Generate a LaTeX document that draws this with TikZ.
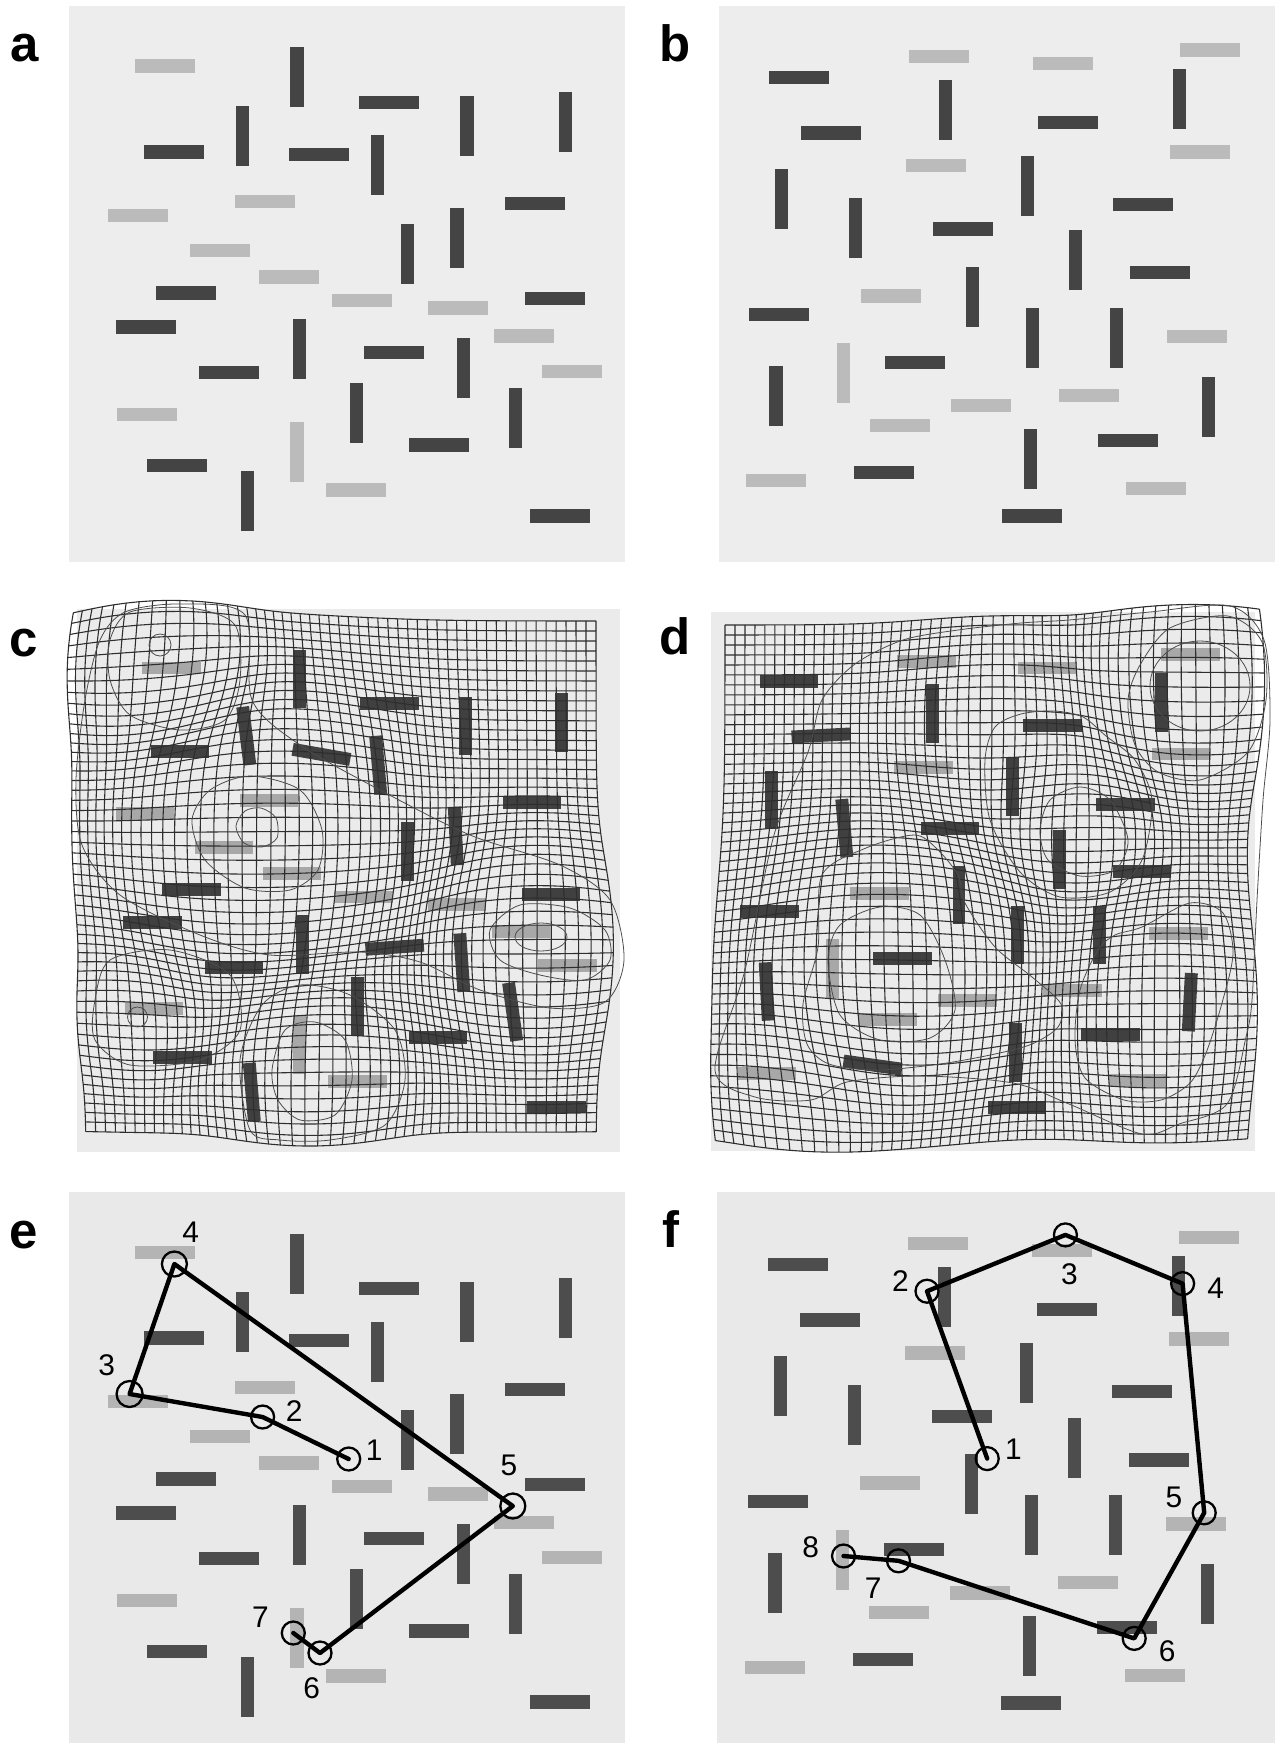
\documentclass[tikz,border=0pt]{standalone}
\usepackage{fontspec}
\setmainfont{Liberation Sans}
\definecolor{bgA}{HTML}{EDEDED}
\definecolor{bgE}{HTML}{E9E9E9}
\definecolor{bgC}{HTML}{EBEBEB}
\definecolor{dk}{HTML}{444444}
\definecolor{lt}{HTML}{BBBBBB}
\definecolor{dkE}{HTML}{4D4D4D}
\definecolor{ltE}{HTML}{B4B4B4}
\definecolor{dkC}{HTML}{404040}
\definecolor{ltC}{HTML}{A8A8A8}
\definecolor{gridc}{HTML}{2E2E2E}

% plain bars
\newcommand\hb[3]{\fill[#3] ({#1-30},{#2-6.6}) rectangle ({#1+30},{#2+6.6});}
\newcommand\vb[3]{\fill[#3] ({#1-6.6},{#2-30}) rectangle ({#1+6.6},{#2+30});}
% bars with an optional tilt looked up by position
\newcommand\getang[2]{\ifcsname rt#1:#2\endcsname\edef\rang{\csname rt#1:#2\endcsname}\else\def\rang{0}\fi}
\newcommand\rhb[3]{\getang{#1}{#2}\fill[#3,rotate around={\rang:(#1,#2)}] ({#1-30},{#2-6.6}) rectangle ({#1+30},{#2+6.6});}
\newcommand\rvb[3]{\getang{#1}{#2}\fill[#3,rotate around={\rang:(#1,#2)}] ({#1-6.6},{#2-30}) rectangle ({#1+6.6},{#2+30});}
\newcommand\settilt[3]{\expandafter\def\csname rt#1:#2\endcsname{#3}}
% tilts in panel c
\settilt{319.2}{154.6}{-10}\settilt{242.1}{135.6}{7}\settilt{377.4}{165.5}{5}
\settilt{515.3}{418.4}{8}\settilt{463.2}{367.9}{4}\settilt{247.8}{500.6}{5}
\settilt{394.3}{352.2}{4}\settilt{457.0}{238.2}{3}
% tilts in panel d
\settilt{855.3}{228.4}{5}\settilt{884.2}{472.1}{-8}\settilt{1208.6}{407.4}{-3}
\settilt{776.0}{396.4}{3}\settilt{831.3}{133.0}{3}

% bars of panel a (H macro, V macro, dark, light)
\newcommand\barsA[4]{%
#1{165.3}{66.1}{#4}#1{138.3}{215.2}{#4}#1{265.4}{201.7}{#4}#1{219.5}{250.3}{#4}%
#1{289.2}{277.0}{#4}#1{362.3}{300.7}{#4}#1{458.3}{308.0}{#4}#1{523.9}{336.1}{#4}%
#1{571.5}{371.2}{#4}#1{147.3}{414.7}{#4}#1{356.1}{490.0}{#4}%
#2{297.0}{452.0}{#4}%
#1{388.9}{102.3}{#3}#1{174.0}{152.0}{#3}#1{319.2}{154.6}{#3}#1{535.0}{203.5}{#3}%
#1{185.8}{293.0}{#3}#1{554.7}{298.5}{#3}#1{146.1}{327.0}{#3}#1{394.3}{352.2}{#3}%
#1{229.3}{372.7}{#3}#1{438.6}{445.0}{#3}#1{176.8}{465.5}{#3}#1{560.4}{515.9}{#3}%
#2{297.0}{77.5}{#3}#2{242.1}{135.6}{#3}#2{466.9}{125.7}{#3}#2{565.3}{122.0}{#3}%
#2{377.4}{165.5}{#3}#2{407.4}{253.9}{#3}#2{457.0}{238.2}{#3}#2{299.5}{349.3}{#3}%
#2{463.2}{367.9}{#3}#2{356.5}{412.9}{#3}#2{515.3}{418.4}{#3}#2{247.8}{500.6}{#3}}

% bars of panel b
\newcommand\barsB[4]{%
#1{939.2}{56.6}{#4}#1{1062.9}{63.6}{#4}#1{1209.5}{50.1}{#4}#1{1200.1}{152.0}{#4}%
#1{936.3}{165.9}{#4}#1{891.1}{296.0}{#4}#1{1197.3}{336.9}{#4}#1{1088.6}{395.7}{#4}%
#1{981.1}{405.9}{#4}#1{899.7}{425.3}{#4}#1{776.4}{480.8}{#4}#1{1155.7}{488.1}{#4}%
#2{843.1}{372.7}{#4}%
#1{798.7}{77.8}{#3}#1{831.3}{133.0}{#3}#1{1068.2}{122.8}{#3}#1{1143.1}{204.2}{#3}%
#1{963.2}{229.1}{#3}#1{1159.8}{272.9}{#3}#1{778.8}{314.2}{#3}#1{914.8}{362.8}{#3}%
#1{1127.6}{440.3}{#3}#1{884.2}{472.1}{#3}#1{1032.0}{515.9}{#3}%
#2{945.3}{110.3}{#3}#2{1179.7}{99.0}{#3}#2{781.2}{199.1}{#3}#2{855.3}{228.4}{#3}%
#2{1027.5}{185.6}{#3}#2{1075.5}{260.5}{#3}#2{972.6}{297.1}{#3}#2{1032.4}{338.0}{#3}%
#2{1116.2}{338.0}{#3}#2{776.0}{396.4}{#3}#2{1208.6}{407.4}{#3}#2{1030.4}{459.3}{#3}}

% warp fields of the grids
\newcommand\warpC[2]{%
 \edef\wqX{\fpeval{#1}}\edef\wqY{\fpeval{#2}}%
 \edef\wtA{\fpeval{0.5*exp(-((\wqX-160)^2+(\wqY-665)^2)/6400)}}%
 \edef\wtB{\fpeval{0.45*exp(-((\wqX-255)^2+(\wqY-830)^2)/16900)}}%
 \edef\wtC{\fpeval{0.45*exp(-((\wqX-535)^2+(\wqY-945)^2)/8100)}}%
 \edef\wtD{\fpeval{0.4*exp(-((\wqX-310)^2+(\wqY-1075)^2)/7225)}}%
 \edef\wtE{\fpeval{0.3*exp(-((\wqX-140)^2+(\wqY-1018)^2)/3600)}}%
 \xdef\wpX{\fpeval{round(\wqX+\wtA*(\wqX-160)+\wtB*(\wqX-255)+\wtC*(\wqX-535)+\wtD*(\wqX-310)+\wtE*(\wqX-140),2)}}%
 \xdef\wpY{\fpeval{round(\wqY+\wtA*(\wqY-665)+\wtB*(\wqY-830)+\wtC*(\wqY-945)+\wtD*(\wqY-1075)+\wtE*(\wqY-1018),2)}}}
\newcommand\warpD[2]{%
 \edef\wqX{\fpeval{#1}}\edef\wqY{\fpeval{#2}}%
 \edef\wtA{\fpeval{0.5*exp(-((\wqX-1195)^2+(\wqY-680)^2)/10000)}}%
 \edef\wtB{\fpeval{0.35*exp(-((\wqX-1082)^2+(\wqY-833)^2)/4900)}}%
 \edef\wtC{\fpeval{0.45*exp(-((\wqX-888)^2+(\wqY-975)^2)/14400)}}%
 \edef\wtD{\fpeval{0.3*exp(-((\wqX-1160)^2+(\wqY-1010)^2)/10000)}}%
 \edef\wtE{\fpeval{0.3*exp(-((\wqX-800)^2+(\wqY-1100)^2)/6400)}}%
 \edef\wtF{\fpeval{0.25*exp(-((\wqX-1000)^2+(\wqY-730)^2)/10000)}}%
 \xdef\wpX{\fpeval{round(\wqX+\wtA*(\wqX-1195)+\wtB*(\wqX-1082)+\wtC*(\wqX-888)+\wtD*(\wqX-1160)+\wtE*(\wqX-800)+\wtF*(\wqX-1000),2)}}%
 \xdef\wpY{\fpeval{round(\wqY+\wtA*(\wqY-680)+\wtB*(\wqY-833)+\wtC*(\wqY-975)+\wtD*(\wqY-1010)+\wtE*(\wqY-1100)+\wtF*(\wqY-730),2)}}}

% draw a stored grid: prefix, max i, max j
\newcommand\drawgrid[3]{%
 \foreach \i in {0,...,#2}{%
   \xdef\acc{\csname #1\i:0\endcsname}%
   \foreach \j in {1,...,#3}{\xdef\acc{\acc -- \csname #1\i:\j\endcsname}}%
   \edef\tmpcmd{\noexpand\draw[gridl] \acc;}\tmpcmd}%
 \foreach \j in {0,...,#3}{%
   \xdef\acc{\csname #10:\j\endcsname}%
   \foreach \i in {1,...,#2}{\xdef\acc{\acc -- \csname #1\i:\j\endcsname}}%
   \edef\tmpcmd{\noexpand\draw[gridl] \acc;}\tmpcmd}}

\begin{document}
\begin{tikzpicture}[x=0.02cm,y=-0.02cm,
  lbl/.style={anchor=base west,inner sep=0pt,font=\fontsize{29}{29}\selectfont\bfseries},
  num/.style={inner sep=0pt,font=\fontsize{17}{17}\selectfont},
  fix/.style={circle,draw=black,line width=1.3pt,inner sep=0pt,minimum size=0.46cm},
  scan/.style={line width=2.5pt,line join=round,line cap=round},
  gridl/.style={draw=gridc,line width=0.62pt,line join=round},
  cont/.style={draw=black!70,line width=0.45pt}]
\useasboundingbox (0,0) rectangle (1275,1743);
\fill[white] (0,0) rectangle (1275,1743);

% ---------- panel a
\fill[bgA] (69,6) rectangle (625,562);
\barsA{\hb}{\vb}{dk}{lt}
\node[lbl] (la) at (10,62) {a};

% ---------- panel b
\fill[bgA] (719,6) rectangle (1275,562);
\barsB{\hb}{\vb}{dk}{lt}
\node[lbl] (lb) at (659,62) {b};

% ---------- panel c
\fill[bgC] (77,609) rectangle (620,1152);
\begin{scope}[shift={(10.2,603.5)},xscale=0.975,yscale=0.976]
\barsA{\rhb}{\rvb}{dkC}{ltC}
\end{scope}
\foreach \i in {0,...,51}{\foreach \j in {0,...,51}{%
  \warpC{86+10*\i}{621+10*\j}\expandafter\xdef\csname cg\i:\j\endcsname{(\wpX,\wpY)}}}
\drawgrid{cg}{51}{51}
\draw[cont] (160,645) circle[radius=11];
\draw[cont] plot[smooth cycle] coordinates {(236,826) (245,811) (261,808) (276,818) (277,838) (262,847) (244,843)};
\draw[cont] plot[smooth cycle] coordinates {(250,776) (300,790) (322,830) (318,870) (290,890) (245,888) (205,860) (192,820) (210,790)};
\draw[cont] (541,937) ellipse[x radius=26,y radius=14];
\draw[cont] plot[smooth cycle] coordinates {(490,930) (520,905) (570,908) (605,930) (610,960) (585,980) (540,975) (500,960)};
\draw[cont] plot[smooth cycle] coordinates {(272,1070) (285,1030) (315,1022) (345,1040) (352,1080) (335,1115) (300,1120) (278,1100)};
\draw[cont] plot[smooth cycle] coordinates {(250,1130) (240,1060) (262,1005) (300,985) (350,995) (395,1030) (405,1080) (385,1125) (330,1140) (280,1140)};
\draw[cont] (137.5,1017) circle[radius=10];
\draw[cont] plot[smooth cycle] coordinates {(95,1000) (110,960) (170,950) (230,975) (240,1030) (200,1060) (130,1065) (95,1040)};
\draw[cont] plot[smooth cycle] coordinates {(110,640) (130,612) (190,608) (235,625) (240,680) (225,720) (180,730) (130,715) (110,680)};
\draw[cont] plot[smooth cycle] coordinates {(180,604) (245,615) (252,700) (300,745) (380,790) (470,835) (560,865) (610,900) (624,960) (605,1002) (550,1008) (480,990) (420,962) (360,952) (270,955) (200,935) (120,895) (82,845) (76,780) (85,700) (100,640) (125,612)};
\node[lbl] (lc) at (9,656) {c};

% ---------- panel d
\fill[bgC] (711,612) rectangle (1255,1151);
\begin{scope}[shift={(7.82,606.17)},xscale=0.978,yscale=0.972]
\barsB{\rhb}{\rvb}{dkC}{ltC}
\end{scope}
\foreach \i in {0,...,52}{\foreach \j in {0,...,51}{%
  \warpD{725+10*\i}{625+10*\j}\expandafter\xdef\csname dg\i:\j\endcsname{(\wpX,\wpY)}}}
\drawgrid{dg}{52}{51}
\draw[cont] (1200,686) ellipse[x radius=50,y radius=45];
\draw[cont] plot[smooth cycle] coordinates {(1140,665) (1170,628) (1228,616) (1262,642) (1266,700) (1248,752) (1200,780) (1158,772) (1135,745) (1128,700)};
\draw[cont] plot[smooth cycle] coordinates {(1040,830) (1050,800) (1080,787) (1110,800) (1128,840) (1115,870) (1080,876) (1048,860)};
\draw[cont] plot[smooth cycle] coordinates {(985,760) (995,727) (1021,714) (1054,711) (1083,717) (1106,736) (1135,760) (1152,800) (1142,860) (1110,892) (1060,897) (1020,872) (990,820)};
\draw[cont] plot[smooth cycle] coordinates {(828,960) (840,925) (880,907) (920,915) (945,960) (955,1010) (930,1038) (880,1040) (840,1015)};
\draw[cont] plot[smooth cycle] coordinates {(822,875) (866,848) (914,835) (936,848) (958,875) (965,903) (995,947) (1032,977) (1061,1004) (1058,1027) (1032,1044) (995,1054) (940,1064) (877,1070) (829,1064) (807,1044) (803,1004) (818,947)};
\draw[cont] plot[smooth cycle] coordinates {(1142,927) (1190,903) (1223,913) (1233,953) (1222,1003) (1206,1053) (1190,1083) (1161,1100) (1124,1100) (1085,1078) (1075,1040) (1080,990) (1098,950) (1115,935)};
\draw[cont] plot[smooth cycle] coordinates {(715,1070) (745,970) (774,835) (808,752) (822,700) (855,664) (903,640) (958,630) (1021,623) (1069,620) (1150,612) (1230,606) (1264,640) (1270,720) (1263,800) (1257,900) (1252,1000) (1246,1037) (1227,1104) (1179,1124) (1142,1134) (1069,1104) (1013,1083) (921,1076) (847,1082) (811,1100) (755,1097)};
\node[lbl] (ld) at (659,654) {d};

% ---------- panel e
\fill[bgE] (69,1192) rectangle (625,1743);
\begin{scope}[shift={(0,1186)}]
\barsA{\hb}{\vb}{dkE}{ltE}
\end{scope}
\node[fix] (e1) at (348.7,1459) {};
\node[fix] (e2) at (262.6,1417) {};
\node[fix,minimum size=0.52cm] (e3) at (129.6,1394) {};
\node[fix,minimum size=0.5cm] (e4) at (174.4,1264) {};
\node[fix,minimum size=0.5cm] (e5) at (512.8,1506) {};
\node[fix] (e6) at (320,1653) {};
\node[fix] (e7) at (293.3,1633) {};
\draw[scan] (e1.center) -- (e2.center) -- (e3.center) -- (e4.center) -- (e5.center) -- (e6.center) -- (e7.center);
\node[num] (ne1) at (374.2,1450) {1};
\node[num] (ne2) at (294.2,1411) {2};
\node[num] (ne3) at (106.7,1365) {3};
\node[num] (ne4) at (190.8,1232) {4};
\node[num] (ne5) at (509,1465) {5};
\node[num] (ne6) at (311.8,1688) {6};
\node[num] (ne7) at (260.5,1617) {7};
\node[lbl] (le) at (9,1248) {e};

% ---------- panel f
\fill[bgE] (717,1192) rectangle (1275,1743);
\begin{scope}[shift={(-1,1187)}]
\barsB{\hb}{\vb}{dkE}{ltE}
\end{scope}
\node[fix] (f1) at (987.2,1458.6) {};
\node[fix] (f2) at (927,1291.2) {};
\node[fix] (f3) at (1065.4,1234.9) {};
\node[fix] (f4) at (1182.6,1283.6) {};
\node[fix] (f5) at (1204.2,1512.8) {};
\node[fix] (f6) at (1134.2,1638.4) {};
\node[fix] (f7) at (898.5,1560.8) {};
\node[fix] (f8) at (843.5,1556) {};
\draw[scan] (f1.center) -- (f2.center) -- (f3.center) -- (f4.center) -- (f5.center) -- (f6.center) -- (f7.center) -- (f8.center);
\node[num] (nf1) at (1013.3,1449) {1};
\node[num] (nf2) at (900.5,1281.4) {2};
\node[num] (nf3) at (1069.4,1274.2) {3};
\node[num] (nf4) at (1215.6,1288) {4};
\node[num] (nf5) at (1174,1497.2) {5};
\node[num] (nf6) at (1167.1,1651) {6};
\node[num] (nf7) at (873.2,1587.8) {7};
\node[num] (nf8) at (810.6,1547) {8};
\node[lbl] (lf) at (662,1247) {f};
\end{tikzpicture}
\end{document}
